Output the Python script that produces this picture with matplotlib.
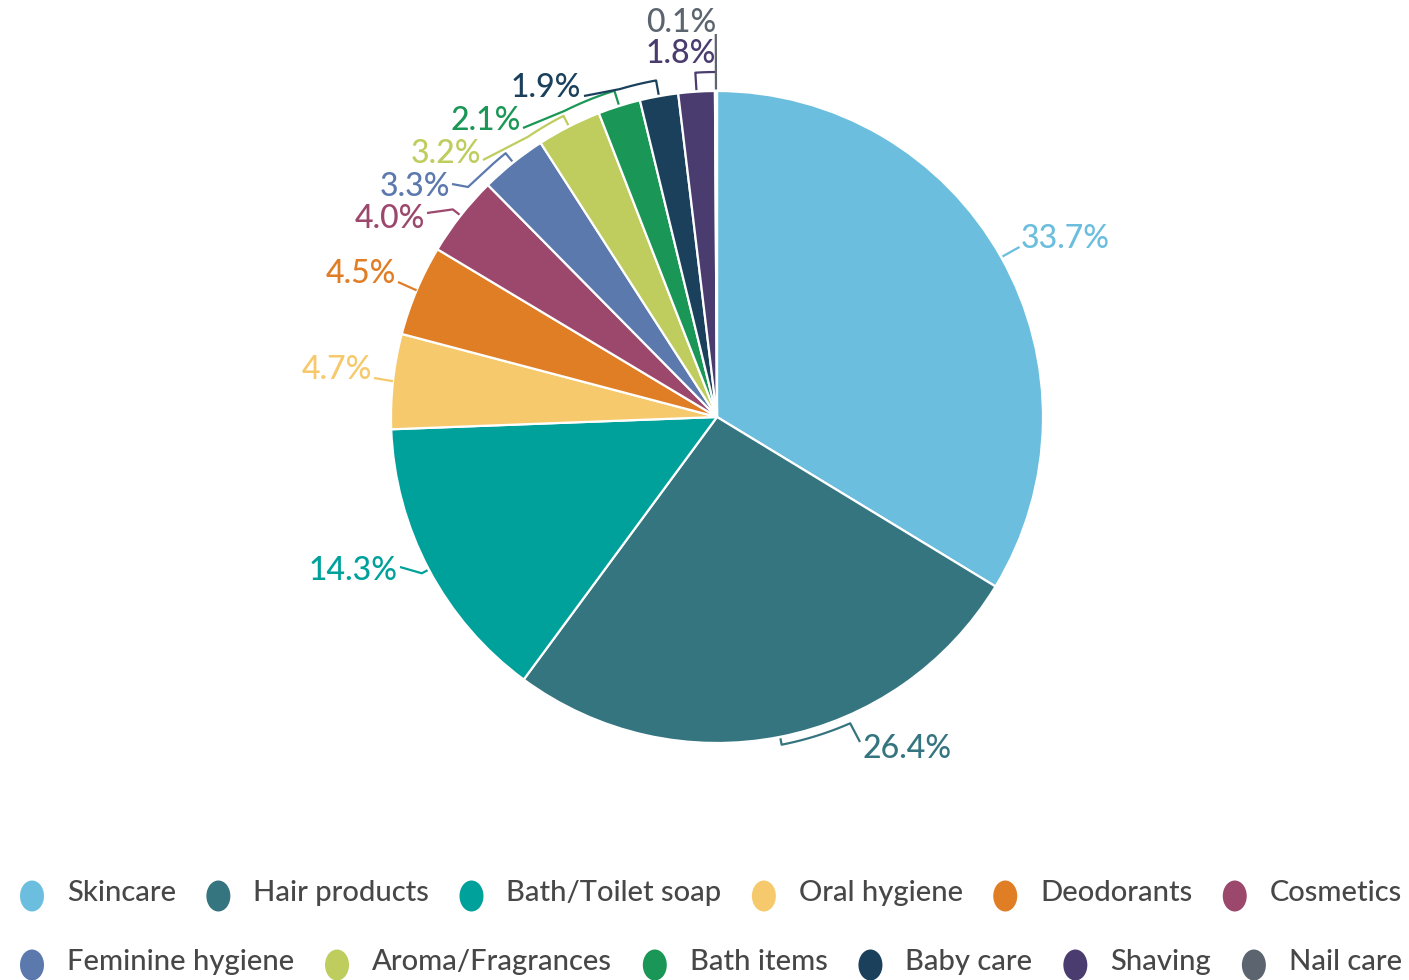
import numpy as np
import matplotlib
matplotlib.use("Agg")
import matplotlib.pyplot as plt
from matplotlib.patches import Ellipse

# ---- data -------------------------------------------------------------
categories = ["Skincare", "Hair products", "Bath/Toilet soap", "Oral hygiene",
              "Deodorants", "Cosmetics", "Feminine hygiene", "Aroma/Fragrances",
              "Bath items", "Baby care", "Shaving", "Nail care"]
shares = [33.7, 26.4, 14.3, 4.7, 4.5, 4.0, 3.3, 3.2, 2.1, 1.9, 1.8, 0.1]
colors = ["#6bbedd", "#357580", "#00a19b", "#f6c96c", "#e07e26", "#9c476c",
          "#5c79ad", "#bfcd5e", "#1a9756", "#1a405b", "#4a3c6f", "#5c6470"]
legend_rows = [categories[:6], categories[6:]]

# ---- canvas in pixel units -------------------------------------------
W, H = 1409, 980
FONT = "Lato"
fig = plt.figure(figsize=(W / 100, H / 100), dpi=100)
ax = fig.add_axes([0, 0, 1, 1])

CX, CY = 717, 417          # pie centre (pixels from top-left)
R = 326


def Y(y):
    return H - y


def polar(theta, r):
    """Point at clockwise angle theta (deg from 12 o'clock) and radius r."""
    t = np.radians(theta)
    return CX + r * np.sin(t), Y(CY - r * np.cos(t))


ax.pie(shares, colors=colors, startangle=90, counterclock=False,
       center=(CX, Y(CY)), radius=R,
       wedgeprops=dict(edgecolor="white", linewidth=1.6))

# slice angles
cum = np.concatenate([[0], np.cumsum(shares)])
mids = [(cum[i] + cum[i + 1]) / 2 * 3.6 for i in range(len(shares))]

# leader style per label: tick length, arc end angle, polyline points,
# text anchor (x, baseline y) and alignment
leaders = [
    (21, None, [], (1021, 248), "left"),
    (8, 156.5, [(860, 742)], (862, 758), "left"),
    (8, None, [(400, 567)], (398, 580), "right"),
    (0, None, [(374, 378)], (372, 379), "right"),
    (0, None, [(398, 282)], (396, 283), "right"),
    (10, None, [(427, 213)], (425, 228), "right"),
    (12, 318.5, [(468, 187), (452, 184)], (450, 196), "right"),
    (12, 326.0, [(483, 160)], (481, 163), "right"),
    (16, 333.5, [(523, 128)], (521, 130), "right"),
    (16, 343.5, [(584, 96)], (581, 97), "right"),
    (19, 359.7, [], (716, 63), "right"),
    (57, None, [], (716, 32), "right"),
]

for i, (tick, arc_to, pts, (tx, ty), ha) in enumerate(leaders):
    c = colors[i]
    th = mids[i]
    xs, ys = [], []
    if tick > 0:
        x0, y0 = polar(th, R + 1.5)
        xs.append(x0); ys.append(y0)
    x1, y1 = polar(th, R + tick)
    xs.append(x1); ys.append(y1)
    if arc_to is not None:
        for a in np.linspace(th, arc_to, 30)[1:]:
            xa, ya = polar(a, R + tick)
            xs.append(xa); ys.append(ya)
    for (px, py) in pts:
        xs.append(px); ys.append(Y(py))
    ax.plot(xs, ys, color=c, lw=1.6, solid_capstyle="butt", zorder=3)
    ax.text(tx, Y(ty), f"{shares[i]:.1f}%", color=c, fontsize=23,
            family=FONT, fontweight="medium", ha=ha, va="baseline", zorder=4)

# ---- legend (flow layout, each row stretched to the full width) -------
fig.canvas.draw()
renderer = fig.canvas.get_renderer()
row_y = [893, 962]
left, right = 20, 1402
dot_w, dot_h = 24, 31
text_off = 35
idx = 0
for row, yc in zip(legend_rows, row_y):
    items = []
    for name in row:
        t = ax.text(0, Y(yc), name, fontsize=21, family=FONT, color="#474747",
                    fontweight="medium", ha="left", va="center")
        bb = t.get_window_extent(renderer)
        items.append((t, bb.width))
    content = sum(text_off - dot_w / 2 + w + dot_w for _, w in items)
    gap = (right - left - content) / (len(items) - 1)
    x = left
    for t, w in items:
        ax.add_patch(Ellipse((x + dot_w / 2, Y(yc + 3)), dot_w, dot_h,
                             color=colors[idx], lw=0, zorder=3))
        t.set_x(x + dot_w / 2 + text_off)
        x += dot_w + (text_off - dot_w / 2) + w + gap
        idx += 1

ax.set_xlim(0, W)
ax.set_ylim(0, H)
ax.set_aspect("equal")
ax.axis("off")
fig.savefig("out.png", dpi=100, facecolor="white")
